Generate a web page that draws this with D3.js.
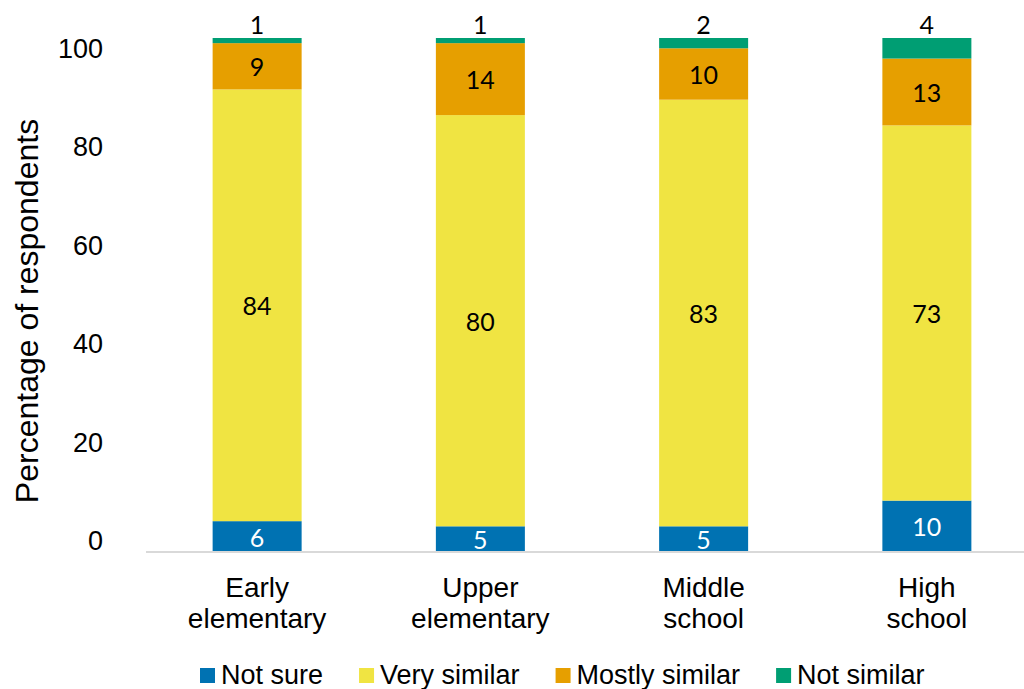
<!DOCTYPE html>
<html>
<head>
<meta charset="utf-8">
<script src="https://cdn.jsdelivr.net/npm/d3@7"></script>
<style>
  html, body { margin: 0; padding: 0; background: #fff; }
  svg { display: block; }
</style>
</head>
<body>
<svg id="chart" width="1024" height="689"></svg>
<script>
// Grade levels (x categories)
const categories = [["Early", "elementary"], ["Upper", "elementary"], ["Middle", "school"], ["High", "school"]];
const categoryKeys = ["Early elementary", "Upper elementary", "Middle school", "High school"];

// Series, stacked bottom to top
const seriesNames = ["Not sure", "Very similar", "Mostly similar", "Not similar"];
const notSure       = [6, 5, 5, 10];
const verySimilar   = [84, 80, 83, 73];
const mostlySimilar = [9, 14, 10, 13];
const notSimilar    = [1, 1, 2, 4];

// Axis tick labels
const yTicks = [0, 20, 40, 60, 80, 100];

const colors = ["#0072B2", "#F0E442", "#E69F00", "#009E73"];
const labelColors = ["#ffffff", "#000000", "#000000", "#000000"];

const seriesValues = [notSure, verySimilar, mostlySimilar, notSimilar];
const rows = categoryKeys.map((k, i) => {
  const r = { key: k };
  seriesNames.forEach((s, j) => { r[s] = seriesValues[j][i]; });
  return r;
});
const stacked = d3.stack().keys(seriesNames)(rows);

const svg = d3.select("#chart");
const baseY = 552;

const x = d3.scaleBand().domain(categoryKeys).range([145.5, 1038.5]).padding(0);
const y = d3.scaleLinear().domain([0, 100]).range([baseY, 38]);
// Tick label placement for the value axis
const yLabel = d3.scaleLinear().domain([0, 100]).range([540, 48]);
const barW = 89;

const arial = "'Liberation Sans', Arial, sans-serif";
const calibri = "Lato, 'Open Sans', sans-serif";

// Bars
const layers = svg.append("g").selectAll("g")
  .data(stacked)
  .join("g")
  .attr("fill", (d, i) => colors[i]);

layers.selectAll("rect")
  .data(d => d)
  .join("rect")
  .attr("x", d => x(d.data.key) + x.bandwidth() / 2 - barW / 2)
  .attr("width", barW)
  .attr("y", d => y(d[1]))
  .attr("height", d => y(d[0]) - y(d[1]));

// Baseline
svg.append("line")
  .attr("x1", 146).attr("x2", 1024)
  .attr("y1", baseY).attr("y2", baseY)
  .attr("stroke", "#d9d9d9").attr("stroke-width", 2);

// Value labels
stacked.forEach((layer, i) => {
  svg.append("g").selectAll("text")
    .data(layer)
    .join("text")
    .attr("x", d => x(d.data.key) + x.bandwidth() / 2)
    .attr("y", d => i === 3 ? y(d[1]) - 14 : (y(d[0]) + y(d[1])) / 2)
    .attr("text-anchor", "middle")
    .attr("dominant-baseline", "central")
    .attr("font-family", calibri)
    .attr("font-size", 25)
    .attr("fill", labelColors[i])
    .text(d => d.data[layer.key]);
});

// Y axis (labels only)
const yAxis = d3.axisLeft(yLabel).tickValues(yTicks).tickSize(0).tickPadding(0);
const gy = svg.append("g").attr("transform", "translate(103,0)").call(yAxis);
gy.select(".domain").remove();
gy.selectAll("text")
  .attr("font-family", arial)
  .attr("font-size", 27)
  .attr("fill", "#000")
  .attr("dy", "0.35em");

// Y axis title
svg.append("text")
  .attr("transform", "translate(38,311) rotate(-90)")
  .attr("text-anchor", "middle")
  .attr("font-family", arial)
  .attr("font-size", 32)
  .attr("fill", "#000")
  .text("Percentage of respondents");

// Category labels
const catG = svg.append("g");
categories.forEach((lines, i) => {
  const t = catG.append("text")
    .attr("x", x(categoryKeys[i]) + x.bandwidth() / 2)
    .attr("text-anchor", "middle")
    .attr("font-family", arial)
    .attr("font-size", 28)
    .attr("fill", "#000");
  lines.forEach((ln, k) => {
    t.append("tspan")
      .attr("x", x(categoryKeys[i]) + x.bandwidth() / 2)
      .attr("y", 597 + k * 31)
      .text(ln);
  });
});

// Legend
const legend = svg.append("g");
let lx = 200;
seriesNames.forEach((name, i) => {
  legend.append("rect")
    .attr("x", lx).attr("y", 668)
    .attr("width", 15).attr("height", 15)
    .attr("fill", colors[i]);
  const t = legend.append("text")
    .attr("x", lx + 21).attr("y", 684)
    .attr("font-family", arial)
    .attr("font-size", 27)
    .attr("fill", "#000")
    .text(name);
  lx += 21 + t.node().getComputedTextLength() + 36;
});
</script>
</body>
</html>
